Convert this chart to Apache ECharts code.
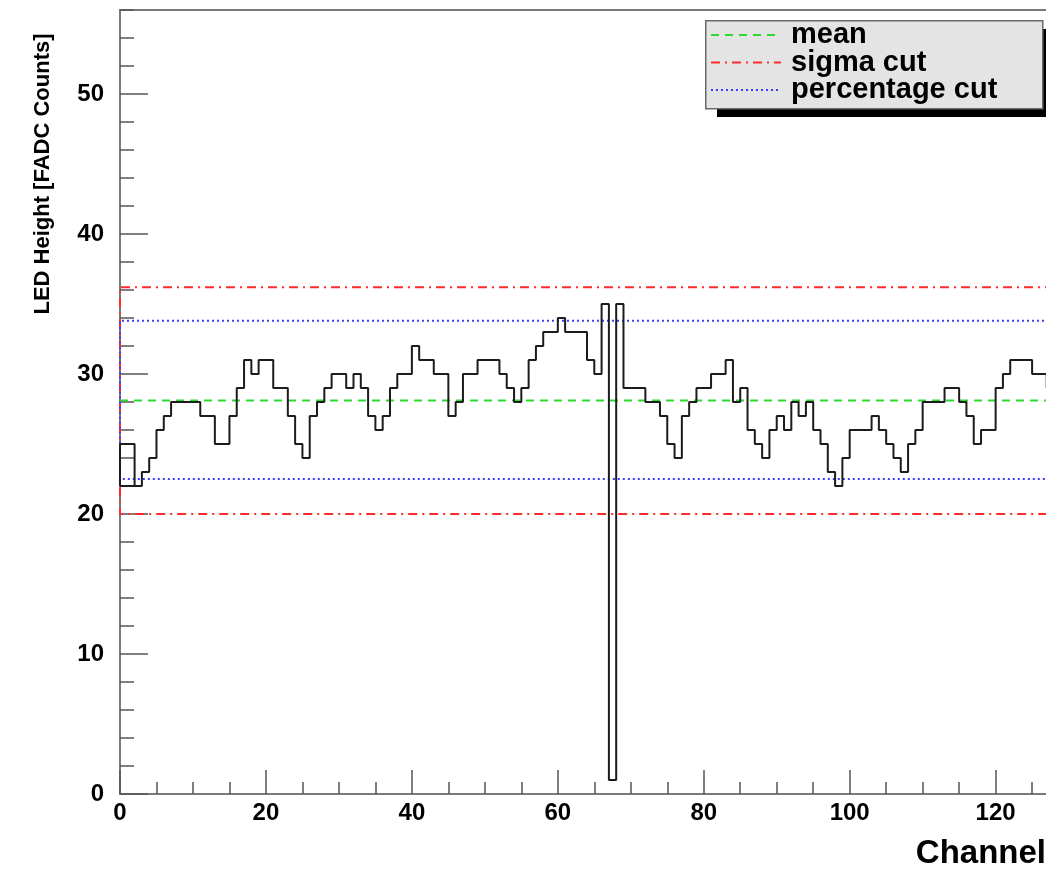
<!DOCTYPE html>
<html>
<head>
<meta charset="utf-8">
<script src="https://cdn.jsdelivr.net/npm/echarts@6/dist/echarts.min.js"></script>
<style>
html,body{margin:0;padding:0;background:#fff;}
#chart{width:1046px;height:871px;}
</style>
</head>
<body>
<div id="chart"></div>
<script>
// ---- data ----
const channelCount = 128;                 // histogram bins 0..127
const ledHeight = [
  25,25,22,23,24,26,27,28,28,28, 28,27,27,25,25,27,29,31,30,31,
  31,29,29,27,25,24,27,28,29,30, 30,29,30,29,27,26,27,29,30,30,
  32,31,31,30,30,27,28,30,30,31, 31,31,30,29,28,29,31,32,33,33,
  34,33,33,33,31,30,35,1,35,29,  29,29,28,28,27,25,24,27,28,29,
  29,30,30,31,28,29,26,25,24,26, 27,26,28,27,28,26,25,23,22,24,
  26,26,26,27,26,25,24,23,25,26, 28,28,28,29,29,28,27,25,26,26,
  29,30,31,31,31,30,30,29
];
const leftEdgeLevel = 22;                 // level where the outline begins at channel 0
const meanLevel = 28.1;
const sigmaCut = [36.2, 20.0];
const percentageCut = [33.8, 22.5];
const legendNames = ['mean', 'sigma cut', 'percentage cut'];
const xTitle = 'Channel';
const yTitle = 'LED Height [FADC Counts]';

// ---- build series data from the arrays ----
const histPts = [[0, leftEdgeLevel]];
ledHeight.forEach((v, i) => histPts.push([i, v]));
histPts.push([channelCount, ledHeight[ledHeight.length - 1]]);
const baseSeg = [[0, leftEdgeLevel], [2, leftEdgeLevel]];
const meanPts = [[0, meanLevel], [channelCount, meanLevel]];
const cutPath = c => [[channelCount, c[0]], [0, c[0]], [0, c[1]], [channelCount, c[1]]];

const FONT = 'Liberation Sans';
const chart = echarts.init(document.getElementById('chart'), null, {renderer: 'canvas'});
const axisGray = '#7a7a7a';
const tickGray = '#555';

chart.setOption({
  animation: false,
  backgroundColor: '#ffffff',
  textStyle: {fontFamily: FONT},
  grid: {
    left: 120, top: 10, right: -8, bottom: 77,
    containLabel: false, outerBoundsMode: 'none',
    show: true, borderColor: axisGray, borderWidth: 2, backgroundColor: 'transparent'
  },
  graphic: [
    {type: 'rect', left: 717, top: 29, z: 100, silent: true,
     shape: {width: 337, height: 88}, style: {fill: '#000'}},
    {type: 'rect', left: 705, top: 20, z: 101, silent: true,
     shape: {width: 337, height: 88}, style: {fill: '#e4e4e4', stroke: '#6a6a6a', lineWidth: 1.5}}
  ],
  legend: {
    data: legendNames,
    orient: 'vertical',
    left: 710, top: 20.5, z: 110,
    itemWidth: 70, itemHeight: 26, itemGap: -1.5,
    padding: 0,
    backgroundColor: 'transparent', borderWidth: 0,
    itemStyle: {opacity: 0},
    textStyle: {fontSize: 29, fontWeight: 'bold', color: '#000', fontFamily: FONT, lineHeight: 26, padding: [0, 0, 0, 5]},
    selectedMode: false
  },
  xAxis: [
    {
      type: 'value', min: 0, max: channelCount, interval: 20, position: 'bottom',
      axisLine: {show: true, onZero: false, lineStyle: {color: axisGray, width: 2}},
      axisTick: {show: true, inside: true, length: 24, lineStyle: {color: tickGray, width: 1.5}},
      axisLabel: {show: true, fontSize: 24, fontWeight: 'bold', color: '#000', margin: 7, showMaxLabel: false},
      splitLine: {show: false},
      name: xTitle, nameLocation: 'end', nameGap: -8,
      nameTextStyle: {fontSize: 33, fontWeight: 'bold', color: '#000', align: 'right', verticalAlign: 'top', padding: [43, 0, 0, 0]}
    },
    {
      type: 'value', min: 0, max: channelCount, interval: 5, position: 'bottom',
      axisLine: {show: false, onZero: false},
      axisTick: {show: true, inside: true, length: 12, lineStyle: {color: tickGray, width: 1.5}},
      axisLabel: {show: false},
      splitLine: {show: false}
    }
  ],
  yAxis: [
    {
      type: 'value', min: 0, max: 56, interval: 10, position: 'left',
      axisLine: {show: true, onZero: false, lineStyle: {color: axisGray, width: 2}},
      axisTick: {show: true, inside: true, length: 28, lineStyle: {color: tickGray, width: 1.5}},
      axisLabel: {show: true, fontSize: 24, fontWeight: 'bold', color: '#000', margin: 16, showMaxLabel: false},
      splitLine: {show: false},
      name: yTitle, nameLocation: 'middle', nameRotate: 90, nameGap: 66,
      nameTextStyle: {fontSize: 22, fontWeight: 'bold', color: '#000', padding: [0, 0, 0, 456]}
    },
    {
      type: 'value', min: 0, max: 56, interval: 2, position: 'left',
      axisLine: {show: false, onZero: false},
      axisTick: {show: true, inside: true, length: 14, lineStyle: {color: tickGray, width: 1.5}},
      axisLabel: {show: false},
      splitLine: {show: false}
    }
  ],
  series: [
    {
      name: 'mean', type: 'line', xAxisIndex: 0, yAxisIndex: 0, data: meanPts,
      symbol: 'none', silent: true, z: 2,
      lineStyle: {color: '#2fd82f', width: 2, type: [8, 6]}
    },
    {
      name: 'sigma cut', type: 'line', xAxisIndex: 0, yAxisIndex: 0, data: cutPath(sigmaCut),
      symbol: 'none', silent: true, z: 2,
      lineStyle: {color: '#ff2a2a', width: 2, type: [9, 5, 2, 5]}
    },
    {
      name: 'percentage cut', type: 'line', xAxisIndex: 0, yAxisIndex: 0, data: cutPath(percentageCut),
      symbol: 'none', silent: true, z: 2,
      lineStyle: {color: '#3b3bff', width: 2, type: [2, 3]}
    },
    {
      name: 'LED height', type: 'line', step: 'end', xAxisIndex: 0, yAxisIndex: 0, data: histPts,
      symbol: 'none', silent: true, z: 3,
      lineStyle: {color: '#1c1c1c', width: 2}
    },
    {
      name: 'edge', type: 'line', xAxisIndex: 0, yAxisIndex: 0, data: baseSeg,
      symbol: 'none', silent: true, z: 3,
      lineStyle: {color: '#1c1c1c', width: 2}
    }
  ]
});
</script>
</body>
</html>
